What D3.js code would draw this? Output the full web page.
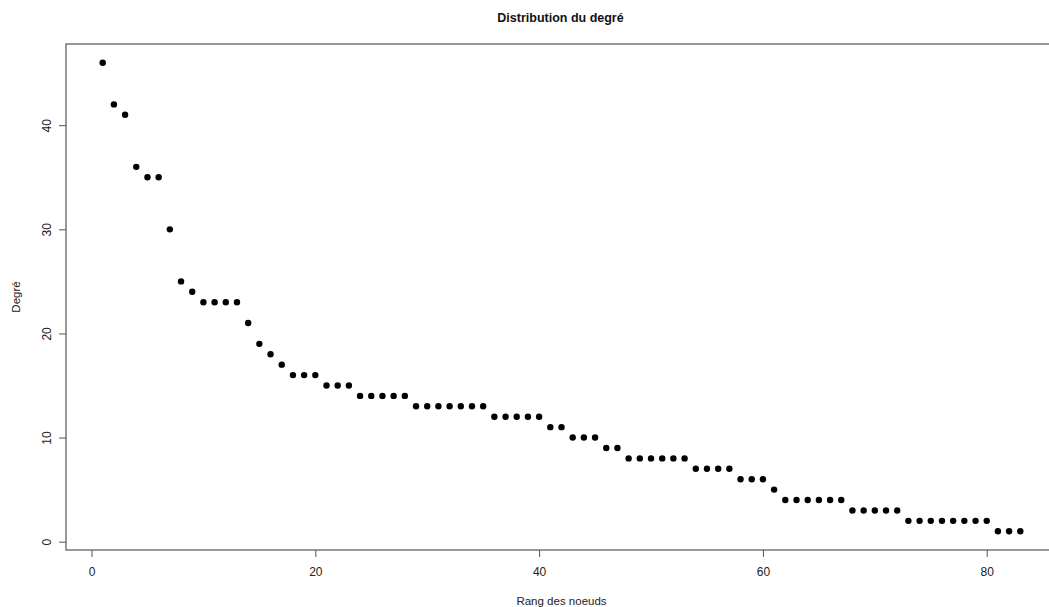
<!DOCTYPE html>
<html>
<head>
<meta charset="utf-8">
<script src="https://cdn.jsdelivr.net/npm/d3@7"></script>
<style>
  body { margin: 0; background: #fff; }
  svg { display: block; font-family: "Liberation Sans", Arial, Helvetica, sans-serif; }
</style>
</head>
<body>
<svg id="chart" width="1049" height="607"></svg>
<script>
const ranks = d3.range(1, 84);
const degrees = [
  46, 42, 41, 36, 35, 35, 30, 25, 24, 23,
  23, 23, 23, 21, 19, 18, 17, 16, 16, 16,
  15, 15, 15, 14, 14, 14, 14, 14, 13, 13,
  13, 13, 13, 13, 13, 12, 12, 12, 12, 12,
  11, 11, 10, 10, 10, 9, 9, 8, 8, 8,
  8, 8, 8, 7, 7, 7, 7, 6, 6, 6,
  5, 4, 4, 4, 4, 4, 4, 3, 3, 3,
  3, 3, 2, 2, 2, 2, 2, 2, 2, 2,
  1, 1, 1
];
const xTicks = [0, 20, 40, 60, 80];
const yTicks = [0, 10, 20, 30, 40];
const title = "Distribution du degré";
const xLabel = "Rang des noeuds";
const yLabel = "Degré";

const svg = d3.select("#chart");
const mLeft = 66, mRight = 1057, mTop = 44, mBottom = 550;

const xMin = 1, xMax = 83, yMin = 1, yMax = 46;
const xPad = (xMax - xMin) * 0.04, yPad = (yMax - yMin) * 0.04;
const x = d3.scaleLinear().domain([xMin - xPad, xMax + xPad]).range([mLeft, mRight]);
const y = d3.scaleLinear().domain([yMin - yPad, yMax + yPad]).range([mBottom, mTop]);

const axisColor = "#555";

// box
svg.append("rect")
  .attr("x", mLeft).attr("y", mTop)
  .attr("width", mRight - mLeft).attr("height", mBottom - mTop)
  .attr("fill", "none").attr("stroke", axisColor).attr("stroke-width", 1.2);

// x axis
const xAxis = svg.append("g").attr("transform", `translate(0,${mBottom})`)
  .call(d3.axisBottom(x).tickValues(xTicks).tickSize(7).tickPadding(10).tickSizeOuter(0));
xAxis.select(".domain").remove();
xAxis.selectAll("line").attr("stroke", axisColor);
xAxis.selectAll("text").attr("font-size", 12).attr("fill", "#222")
  .attr("font-family", "Liberation Sans, Arial, sans-serif");

// y axis
const yAxis = svg.append("g").attr("transform", `translate(${mLeft},0)`)
  .call(d3.axisLeft(y).tickValues(yTicks).tickSize(7).tickSizeOuter(0));
yAxis.select(".domain").remove();
yAxis.selectAll("line").attr("stroke", axisColor);
yAxis.selectAll("text").remove();
yAxis.selectAll(".tick").append("text")
  .attr("transform", "translate(-19,0) rotate(-90)")
  .attr("text-anchor", "middle")
  .attr("dy", "0.35em")
  .attr("font-size", 12).attr("fill", "#222")
  .text(d => d);

// points
svg.append("g").selectAll("circle")
  .data(ranks.map((r, i) => ({ r, d: degrees[i] })))
  .join("circle")
  .attr("cx", d => x(d.r))
  .attr("cy", d => y(d.d))
  .attr("r", 3.2)
  .attr("fill", "#000");

// title
svg.append("text")
  .attr("x", (mLeft + mRight) / 2 - 1).attr("y", 22)
  .attr("text-anchor", "middle")
  .attr("font-size", 12.5).attr("font-weight", "bold").attr("fill", "#111")
  .text(title);

// x label
svg.append("text")
  .attr("x", (mLeft + mRight) / 2).attr("y", 605)
  .attr("text-anchor", "middle")
  .attr("font-size", 11.5).attr("fill", "#222")
  .text(xLabel);

// y label
svg.append("text")
  .attr("transform", `translate(20,${(mTop + mBottom) / 2}) rotate(-90)`)
  .attr("text-anchor", "middle")
  .attr("font-size", 11.5).attr("fill", "#222")
  .text(yLabel);
</script>
</body>
</html>
